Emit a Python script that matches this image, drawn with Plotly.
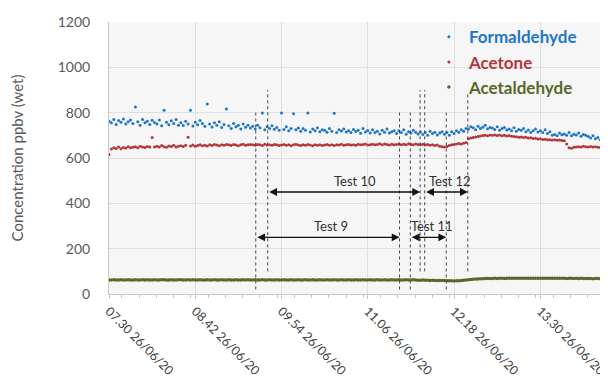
import pandas as pd
import plotly.graph_objects as go

# ---- data -------------------------------------------------------------
times = pd.date_range("2020-06-26 07:30", periods=206, freq="2min")

formaldehyde = [
    762, 755, 770, 748, 765, 758, 772, 750, 760, 768,
    752, 825, 760, 745, 770, 755, 762, 748, 766, 757,
    750, 768, 742, 811, 758, 747, 764, 752, 770, 745,
    756, 743, 762, 750, 811, 741, 758, 747, 765, 752,
    740, 838, 750, 737, 755, 744, 760, 735, 748, 816,
    742, 730, 752, 738, 745, 728, 750, 736, 744, 732,
    740, 728, 745, 733, 798, 725, 738, 730, 742, 727,
    735, 722, 798, 726, 738, 720, 730, 795, 725, 732,
    718, 730, 722, 798, 715, 728, 720, 734, 716, 725,
    722, 714, 730, 718, 797, 712, 725, 719, 728, 715,
    720, 712, 726, 717, 722, 709, 730, 715, 721, 710,
    725, 712, 718, 706, 722, 714, 728, 710, 716, 720,
    708, 720, 712, 725, 705, 716, 710, 722, 714, 706,
    715, 704, 712, 700, 718, 708, 714, 702, 710, 716,
    705, 712, 700, 716, 708, 720, 714, 725, 718, 730,
    728, 738, 733, 725, 740, 730, 736, 744, 729, 735,
    732, 726, 738, 722, 730, 735, 724, 728, 720, 733,
    718, 726, 722, 730, 716, 724, 712, 720, 728, 715,
    720, 712, 725, 708, 716, 700, 704, 698, 710, 703,
    706, 700, 712, 698, 705, 702, 710, 696, 704, 700,
    695, 688, 698, 685, 690, 680,
]

acetone = [
    615, 640, 645, 642, 648, 641, 646, 644, 650, 645,
    647, 650, 645, 652, 648, 646, 651, 649, 690, 648,
    652, 648, 655, 650, 647, 653, 651, 656, 649, 652,
    654, 651, 656, 692, 653, 657, 652, 655, 658, 654,
    656, 653, 658, 655, 660, 657, 654, 659, 656, 660,
    658, 655, 660, 657, 654, 659, 661, 656, 658, 660,
    659, 656, 660, 658, 655, 661, 657, 659, 656, 660,
    658, 655, 657, 660, 656, 659, 654, 658, 661, 657,
    655, 658, 656, 660, 657, 654, 659, 656, 658, 655,
    657, 660, 656, 658, 655, 659, 657, 661, 656, 658,
    660, 657, 659, 656, 661, 658, 660, 662, 657, 659,
    661, 658, 660, 663, 659, 662, 660, 657, 661, 659,
    660, 662, 658, 661, 659, 663, 660, 658, 662, 660,
    659, 661, 657, 660, 656, 658, 655, 657, 652, 650,
    648, 651, 655, 658, 660, 662, 664, 662, 665, 668,
    685, 688, 690, 693, 695, 697, 699, 700, 698, 701,
    700, 702, 699, 701, 698, 700, 697, 699, 696, 695,
    694, 692, 693, 690, 691, 688, 689, 686, 687, 684,
    685, 682, 683, 680, 681, 679, 680, 678, 679, 677,
    676, 662, 645, 643, 647, 648, 650, 649, 652, 650,
    649, 651, 648, 650, 647, 646,
]

acetaldehyde = [
    62, 62, 63, 62, 62, 63, 62, 62, 63, 62,
    62, 63, 62, 62, 63, 62, 63, 62, 62, 63,
    62, 62, 63, 63, 62, 62, 63, 62, 62, 63,
    63, 62, 62, 63, 62, 63, 62, 62, 63, 62,
    62, 63, 62, 62, 63, 62, 62, 63, 62, 62,
    63, 62, 62, 63, 62, 62, 63, 62, 63, 62,
    62, 63, 62, 62, 63, 62, 62, 63, 62, 62,
    63, 62, 62, 63, 62, 62, 63, 62, 62, 63,
    62, 62, 63, 62, 62, 63, 62, 62, 63, 62,
    62, 63, 62, 62, 63, 62, 62, 63, 62, 62,
    63, 62, 62, 63, 62, 62, 63, 62, 62, 63,
    62, 62, 63, 62, 62, 63, 62, 62, 63, 62,
    62, 63, 62, 62, 63, 62, 62, 63, 62, 61,
    61, 62, 61, 61, 60, 61, 60, 60, 60, 60,
    60, 59, 58, 58, 57, 58, 59, 60, 61, 62,
    63, 64, 65, 66, 66, 67, 67, 68, 68, 68,
    68, 69, 68, 69, 69, 68, 69, 70, 69, 69,
    70, 69, 70, 70, 69, 70, 70, 69, 70, 70,
    70, 69, 70, 70, 69, 70, 69, 69, 70, 69,
    69, 68, 69, 69, 68, 69, 68, 69, 68, 68,
    68, 68, 67, 68, 68, 67,
]

tests = ["Test 9", "Test 10", "Test 11", "Test 12"]
test_start = ["2020-06-26 09:32:30", "2020-06-26 09:42:30",
              "2020-06-26 11:41:30", "2020-06-26 11:53:30"]
test_end = ["2020-06-26 11:32:30", "2020-06-26 11:49:40",
            "2020-06-26 12:11:30", "2020-06-26 12:29:30"]
line_bottom = [20, 100, 20, 100]
line_top_start = [800, 900, 800, 900]
line_top_end = [800, 900, 800, 880]
arrow_level = [250, 450, 250, 450]

x_ticks_start = "2020-06-26 07:30"
y_ticks = [0, 200, 400, 600, 800, 1000, 1200]

# ---- styles -----------------------------------------------------------
C_FORM = "#1f76c9"
C_ACET = "#b3373a"
C_ALD = "#56692a"
label_xshift = [3, 11, 4, 4]
FONT = "Lato, 'Open Sans', sans-serif"

fig = go.Figure()
for name, vals, col, sz in [("Formaldehyde", formaldehyde, C_FORM, 3),
                            ("Acetone", acetone, C_ACET, 3),
                            ("Acetaldehyde", acetaldehyde, C_ALD, 3.5)]:
    fig.add_trace(go.Scatter(
        x=times, y=vals, mode="markers",
        marker=dict(color=col, size=sz, line=dict(width=0)),
        name=f"<b><span style='color:{col}'>{name}</span></b>",
    ))

for i, t in enumerate(tests):
    s = pd.Timestamp(test_start[i])
    e = pd.Timestamp(test_end[i])
    fig.add_shape(type="line", xref="x", yref="y", x0=s, x1=s,
                  y0=line_bottom[i], y1=line_top_start[i],
                  line=dict(color="#444", width=1, dash="dot"))
    fig.add_shape(type="line", xref="x", yref="y", x0=e, x1=e,
                  y0=line_bottom[i], y1=line_top_end[i],
                  line=dict(color="#444", width=1, dash="dot"))
    fig.add_annotation(x=e, y=arrow_level[i], ax=s, ay=arrow_level[i],
                       xref="x", yref="y", axref="x", ayref="y",
                       text="", showarrow=True, arrowside="end+start",
                       arrowhead=2, arrowsize=1.2, arrowwidth=1.3,
                       arrowcolor="#111", standoff=0, startstandoff=0)
    fig.add_annotation(x=s + (e - s) / 2, y=arrow_level[i], text=t,
                       showarrow=False, xref="x", yref="y",
                       yshift=11, xshift=label_xshift[i],
                       font=dict(size=13, color="#333", family=FONT))

# page body has an 8px margin: figure is sized to fit inside the window
fig.update_layout(
    width=600, height=381,
    margin=dict(l=101, r=3, t=14, b=95, autoexpand=False),
    paper_bgcolor="white", plot_bgcolor="#f6f6f6",
    font=dict(family=FONT, color="#595959"),
    showlegend=True,
    legend=dict(x=0.645, y=1.01, xanchor="left", yanchor="top",
                bgcolor="rgba(0,0,0,0)", font=dict(size=17, family=FONT),
                itemsizing="trace", itemwidth=30, tracegroupgap=0),
    xaxis=dict(
        type="date", automargin=False,
        range=["2020-06-26 07:30", "2020-06-26 14:24"],
        tick0=x_ticks_start, dtick=72 * 60 * 1000,
        tickformat="%H.%M %d/%m/%y", tickangle=45,
        ticklabeloverflow="allow",
        tickfont=dict(size=12.5, color="#404040", family=FONT),
        showgrid=True, gridcolor="#e0e0e0", gridwidth=1,
        showline=True, linecolor="#c8c8c8", linewidth=1,
        ticks="outside", ticklen=4, tickcolor="#c8c8c8",
        minor=dict(dtick=72 * 60 * 1000 / 5, ticks="outside", ticklen=3,
                   tickcolor="#c8c8c8", showgrid=False),
        zeroline=False,
    ),
    yaxis=dict(
        range=[0, 1200], tickvals=y_ticks, automargin=False,
        tickfont=dict(size=14, color="#595959", family=FONT),
        showgrid=True, gridcolor="#e0e0e0", gridwidth=1,
        showline=True, linecolor="#c8c8c8", linewidth=1,
        ticklabelstandoff=15, zeroline=False,
        title=dict(text="Concentration ppbv (wet)", standoff=30,
                   font=dict(size=15, color="#595959", family=FONT)),
    ),
)

fig.write_html("out.html")
